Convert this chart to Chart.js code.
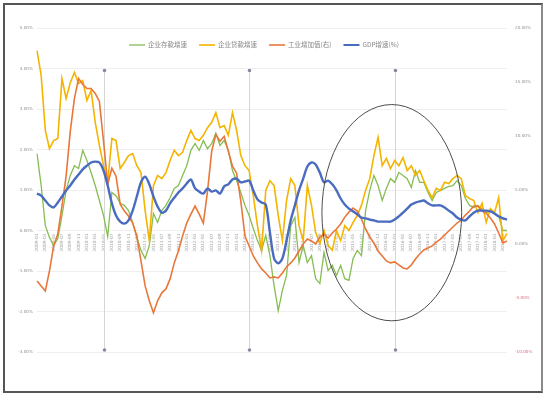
<!DOCTYPE html>
<html>
<head>
<meta charset="utf-8">
<script src="https://cdn.jsdelivr.net/npm/chart.js@4.4.1/dist/chart.umd.min.js"></script>
<style>
  html, body { margin: 0; padding: 0; background: #fff; }
  #frame { position: absolute; left: 3px; top: 3px; width: 536px; height: 386px;
           border: 2px solid #555; border-right-color: #8a8a8a; }
  #wrap { position: absolute; left: 0; top: 0; width: 552px; height: 395px; }
</style>
</head>
<body>
<div id="frame"></div>
<div id="wrap"><canvas id="c" width="552" height="395"></canvas></div>
<script>
// ---- monthly series (left axis unless noted) ----
const firstMonth = [2009, 1];

const depositGrowth = [ // green
  1.90, 1.11, 0.12, -0.17, -0.37, -0.20, 0.37, 0.99, 1.36, 1.60, 1.53, 1.98, 1.73, 1.43, 1.11, 0.74,
  0.37, -0.15, 0.94, 0.86, 0.67, 0.62, 0.49, 0.20, -0.17, -0.49, -0.69, -0.37, 0.42, 0.20, 0.49, 0.62,
  0.81, 1.04, 1.11, 1.36, 1.60, 1.98, 2.15, 1.98, 2.22, 2.02, 2.15, 2.40, 2.10, 2.22, 1.98, 1.48,
  1.23, 0.94, 0.62, 0.37, 0.05, -0.25, -0.49, -0.12, -0.62, -1.36, -1.98, -1.48, -1.11, 0.12, 0.32, -0.79,
  -0.37, -0.79, -0.62, -1.19, -1.31, -0.54, -0.99, -0.86, -1.11, -0.86, -1.19, -1.23, -0.69, -0.49, -0.62, 0.49,
  0.99, 1.36, 1.11, 0.74, 1.04, 1.28, 1.19, 1.43, 1.36, 1.28, 1.06, 1.48, 1.19, 1.19, 0.94, 0.74,
  0.94, 0.99, 1.04, 1.09, 1.11, 1.23, 1.11, 0.79, 0.62, 0.57, 0.62, 0.54, 0.44, 0.49, 0.40, 0.35,
  0.00, 0.00
];

const loanGrowth = [ // yellow
  4.44, 3.83, 2.47, 2.02, 2.22, 2.27, 3.75, 3.26, 3.65, 3.90, 3.63, 3.70, 3.21, 3.46, 2.67, 2.10,
  1.60, 1.19, 2.27, 2.22, 1.53, 1.68, 1.85, 1.90, 1.60, 1.43, 0.49, -0.25, 1.11, 1.36, 1.28, 1.43,
  1.73, 1.98, 1.85, 1.93, 2.22, 2.47, 2.27, 2.22, 2.35, 2.54, 2.67, 2.91, 2.54, 2.59, 2.35, 2.91,
  2.47, 1.85, 1.60, 1.48, 0.86, 0.12, -0.49, 0.99, 1.23, 1.11, 0.37, -0.25, 0.74, 1.28, 1.11, 0.12,
  -0.25, 1.11, 0.62, -0.05, -0.32, 0.00, -0.37, -0.49, 0.00, -0.25, 0.12, 0.00, 0.20, 0.37, 0.62, 0.99,
  1.28, 1.85, 2.30, 1.60, 1.78, 1.53, 1.73, 1.60, 1.80, 1.48, 1.60, 1.36, 1.48, 1.23, 0.99, 0.81,
  1.04, 0.99, 1.19, 1.16, 1.28, 1.36, 1.28, 0.86, 0.79, 0.74, 0.44, 0.67, 0.20, 0.54, 0.44, 0.81,
  -0.25, -0.07
];

const outputGrowth = [ // orange, right axis (%)
  -3.42, -3.88, -4.34, -2.49, -0.18, 0.92, 3.51, 6.28, 10.43, 13.48, 15.33, 14.77, 14.40, 14.40, 13.94, 13.20,
  9.51, 5.54, 7.02, 6.28, 3.69, 3.05, 2.59, 1.94, 0.74, -1.57, -3.88, -5.26, -6.37, -5.26, -4.52, -4.16,
  -3.23, -1.75, -0.65, 0.74, 1.94, 2.77, 3.51, 2.77, 1.94, 4.89, 8.59, 10.16, 9.51, 9.97, 8.59, 7.20,
  6.56, 3.97, 0.74, -0.18, -1.11, -1.75, -2.31, -2.68, -3.14, -3.05, -3.14, -2.68, -2.12, -1.75, -1.29, -0.65,
  0.00, 0.46, 0.28, 0.00, 0.65, 0.92, 0.55, 1.02, 1.39, 1.85, 2.49, 2.95, 3.32, 3.05, 2.31, 1.39,
  0.65, 0.09, -0.65, -1.11, -1.57, -1.75, -1.66, -1.94, -2.22, -2.31, -1.94, -1.39, -0.92, -0.55, -0.37, -0.18,
  0.18, 0.46, 0.83, 1.20, 1.57, 1.94, 2.22, 2.68, 3.05, 3.51, 3.51, 3.05, 2.86, 2.40, 1.85, 1.02,
  0.09, 0.28
];

const trendRate = [ // blue
  0.91, 0.86, 0.74, 0.62, 0.57, 0.69, 0.84, 0.99, 1.11, 1.26, 1.38, 1.51, 1.60, 1.68, 1.70, 1.68,
  1.48, 1.11, 0.67, 0.37, 0.22, 0.17, 0.25, 0.49, 0.84, 1.19, 1.33, 1.14, 0.84, 0.59, 0.44, 0.49,
  0.67, 0.81, 0.94, 1.04, 1.16, 1.26, 1.04, 0.96, 0.91, 1.04, 0.96, 0.99, 0.91, 1.09, 1.14, 1.26,
  1.28, 1.19, 1.21, 1.23, 0.99, 0.77, 0.69, 0.64, -0.05, -0.69, -0.81, -0.69, -0.25, 0.25, 0.62, 0.99,
  1.28, 1.58, 1.68, 1.63, 1.43, 1.19, 1.23, 1.14, 0.99, 0.79, 0.64, 0.54, 0.47, 0.40, 0.32, 0.30,
  0.27, 0.25, 0.22, 0.22, 0.22, 0.22, 0.27, 0.35, 0.44, 0.54, 0.64, 0.69, 0.72, 0.74, 0.67, 0.62,
  0.62, 0.62, 0.57, 0.49, 0.42, 0.32, 0.27, 0.25, 0.35, 0.44, 0.49, 0.49, 0.49, 0.47, 0.42, 0.35,
  0.30, 0.27
];

const seriesNames = ['企业存款增速', '企业贷款增速', '工业增加值(右)', 'GDP增速(%)'];
const seriesColors = ['#86bd52', '#f4b400', '#e9773a', '#4a6cc0'];

// left and right axis ranges and steps
const leftTicks = [-3, 5, 1];
const rightTicks = [-10, 20, 5];

// vertical guide lines (category index) and their value span on the left axis
const guideIdx = [16, 51, 86];
const guideSpan = [3.95, -2.95];

// highlighted period: centre (index, left value) and radii (index units, value units)
const ringCentre = [85.3, 0.44];
const ringRadius = [16.8, 2.67];

// month labels
const months = depositGrowth.map((_, i) => {
  const m = firstMonth[1] - 1 + i;
  const y = firstMonth[0] + Math.floor(m / 12);
  return y + '-' + String(m % 12 + 1).padStart(2, '0');
});

const guidesPlugin = {
  id: 'guides',
  beforeDatasetsDraw(chart) {
    const {ctx, scales: {x, y}} = chart;
    ctx.save();
    ctx.strokeStyle = '#d6d6d6';
    ctx.lineWidth = 1;
    guideIdx.forEach(i => {
      const px = Math.round(x.getPixelForValue(i)) + 0.5;
      ctx.beginPath();
      ctx.moveTo(px, y.getPixelForValue(guideSpan[0]));
      ctx.lineTo(px, y.getPixelForValue(guideSpan[1]));
      ctx.stroke();
    });
    ctx.restore();
  },
  afterDatasetsDraw(chart) {
    const {ctx, scales: {x, y}} = chart;
    ctx.save();
    ctx.fillStyle = '#858aa0';
    guideIdx.forEach(i => {
      const px = Math.round(x.getPixelForValue(i)) + 0.5;
      guideSpan.forEach(v => {
        ctx.beginPath();
        ctx.arc(px, y.getPixelForValue(v), 1.8, 0, Math.PI * 2);
        ctx.fill();
      });
    });
    // ellipse around the highlighted period
    const cx = x.getPixelForValue(ringCentre[0]);
    const cy = y.getPixelForValue(ringCentre[1]);
    const rx = x.getPixelForValue(ringCentre[0] + ringRadius[0]) - cx;
    const ry = y.getPixelForValue(ringCentre[1] - ringRadius[1]) - cy;
    ctx.strokeStyle = '#4d4d4d';
    ctx.lineWidth = 1;
    ctx.beginPath();
    ctx.ellipse(cx, cy, rx, ry, 0, 0, Math.PI * 2);
    ctx.stroke();
    ctx.restore();
  }
};

// legend drawn inside the plot area, near its top
const legendPlugin = {
  id: 'innerLegend',
  afterDraw(chart) {
    const {ctx, chartArea} = chart;
    const font = '6.5px "Noto Sans CJK SC", "Noto Sans", sans-serif';
    const markW = 16, gapText = 3, gapItem = 12;
    ctx.save();
    ctx.font = font;
    const items = chart.data.datasets.map(ds => ({
      text: ds.label, color: ds.borderColor, lw: ds.borderWidth,
      w: markW + gapText + ctx.measureText(ds.label).width
    }));
    const total = items.reduce((s, it) => s + it.w, 0) + gapItem * (items.length - 1);
    let px = (chartArea.left + chartArea.right) / 2 - 8 - total / 2;
    const py = chartArea.top + 17;
    ctx.textBaseline = 'middle';
    items.forEach(it => {
      ctx.strokeStyle = it.color;
      ctx.lineWidth = Math.min(it.lw, 2);
      ctx.beginPath();
      ctx.moveTo(px, py);
      ctx.lineTo(px + markW, py);
      ctx.stroke();
      ctx.fillStyle = '#858585';
      ctx.fillText(it.text, px + markW + gapText, py);
      px += it.w + gapItem;
    });
    ctx.restore();
  }
};

const makeSet = (label, data, color, width, axis, order) => ({
  label, data, borderColor: color, backgroundColor: color, borderWidth: width,
  pointRadius: 0, tension: 0, yAxisID: axis, order, fill: false
});

new Chart(document.getElementById('c'), {
  type: 'line',
  data: {
    labels: months,
    datasets: [
      makeSet(seriesNames[0], depositGrowth, seriesColors[0], 1.3, 'y', 4),
      makeSet(seriesNames[1], loanGrowth, seriesColors[1], 1.6, 'y', 3),
      makeSet(seriesNames[2], outputGrowth, seriesColors[2], 1.6, 'y1', 2),
      Object.assign(makeSet(seriesNames[3], trendRate, seriesColors[3], 2.4, 'y', 1), {tension: 0.3})
    ]
  },
  options: {
    responsive: false,
    animation: false,
    layout: { padding: { top: 28, bottom: 43, left: 0, right: 0 } },
    plugins: { legend: { display: false }, tooltip: { enabled: false } },
    scales: {
      x: {
        position: { y: 0 },
        grid: { display: false, drawTicks: false },
        border: { display: false },
        ticks: {
          autoSkip: false, minRotation: 90, maxRotation: 90, padding: 3,
          color: '#a8a8a8', font: { size: 4.3, family: 'DejaVu Sans' },
          callback: (v, i) => (i % 2 === 0 ? months[i] : '')
        }
      },
      y: {
        position: 'left',
        min: leftTicks[0], max: leftTicks[1],
        afterFit: s => { s.width = 37; },
        grid: { color: '#efefef', drawTicks: false },
        border: { display: false },
        ticks: {
          stepSize: leftTicks[2], padding: 4, color: '#8f8f8f',
          font: { size: 4.2, family: 'DejaVu Sans' },
          callback: v => v.toFixed(2) + '%'
        }
      },
      y1: {
        position: 'right',
        min: rightTicks[0], max: rightTicks[1],
        afterFit: s => { s.width = 45; },
        grid: { display: false, drawTicks: false },
        border: { display: false },
        ticks: {
          stepSize: rightTicks[2], padding: 8,
          color: c => (c.tick && c.tick.value < 0 ? '#e2667e' : '#8f8f8f'),
          font: { size: 4.2, family: 'DejaVu Sans' },
          callback: v => v.toFixed(2) + '%'
        }
      }
    }
  },
  plugins: [guidesPlugin, legendPlugin]
});
</script>
</body>
</html>
